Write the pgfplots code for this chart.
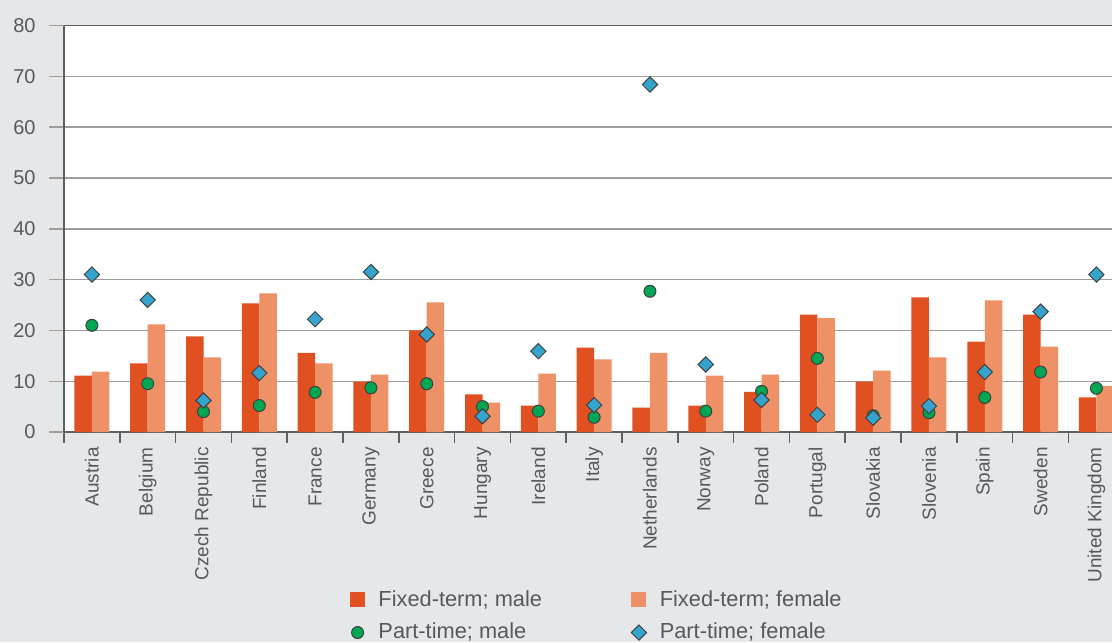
\documentclass[border=0pt]{standalone}
\usepackage{fontspec}
\setmainfont{Liberation Sans}
\usepackage{pgfplots}
\usepackage{pgfplotstable}
\pgfplotsset{compat=1.18}
\definecolor{bgg}{HTML}{E6E7E8}
\definecolor{txt}{HTML}{58595B}
\definecolor{male}{HTML}{E05020}
\definecolor{female}{HTML}{EE9166}
\definecolor{ptm}{HTML}{00A651}
\definecolor{ptf}{HTML}{35A4CD}
\definecolor{gridc}{HTML}{9D9D9D}
\definecolor{axc}{HTML}{5F6062}

\pgfplotsset{
  sqleg/.style={legend image code/.code={\fill[#1] (0pt,-3.75pt) rectangle (7.5pt,3.75pt); \path (12pt,0pt);}},
  mkleg/.style={legend image code/.code={\draw[##1] plot coordinates {(3.75pt,0pt)}; \path (0pt,0pt) (12pt,0pt);}},
}

\pgfplotstableread{
x  male female ptm  ptf
0  11.1 11.9   21.0 31.0
1  13.5 21.2   9.5  26.0
2  18.8 14.7   4.0  6.2
3  25.3 27.3   5.2  11.6
4  15.6 13.5   7.8  22.2
5  9.9  11.3   8.7  31.5
6  20.0 25.5   9.5  19.2
7  7.4  5.8    5.0  3.1
8  5.2  11.5   4.1  15.9
9  16.6 14.3   2.9  5.3
10 4.8  15.6   27.7 68.4
11 5.2  11.1   4.1  13.3
12 7.9  11.3   8.0  6.3
13 23.1 22.4   14.5 3.4
14 9.9  12.1   3.2  2.8
15 26.5 14.7   3.8  5.1
16 17.8 25.9   6.8  11.8
17 23.1 16.8   11.8 23.7
18 6.8  9.1    8.6  31.0
}\data

\begin{document}
\begin{tikzpicture}
\fill[bgg] (-32pt,-105pt) rectangle (524pt,216pt);
\path[use as bounding box] (-32pt,-105pt) rectangle (524pt,216pt);
\begin{axis}[
  at={(0pt,0pt)}, anchor=south west,
  scale only axis, width=524pt, height=203.2pt,
  xmin=-0.5, xmax=18.28, ymin=0, ymax=80,
  axis background/.style={fill=white},
  axis x line*=bottom, axis y line*=left,
  axis line style={axc, line width=0.8pt},
  ytick={0,10,...,80},
  ymajorgrids,
  major grid style={gridc, line width=0.7pt},
  tick align=outside,
  major tick length=7.5pt,
  minor tick length=5.5pt,
  ytick style={gridc, line width=0.7pt},
  major x tick style={draw=none},
  minor x tick style={axc, line width=0.8pt},
  xtick={0,...,18},
  minor xtick={-0.5,0.5,...,17.5},
  xticklabels={Austria,Belgium,Czech Republic,Finland,France,Germany,Greece,Hungary,Ireland,Italy,Netherlands,Norway,Poland,Portugal,Slovakia,Slovenia,Spain,Sweden,United Kingdom},
  xticklabel style={rotate=90, anchor=east, inner sep=0pt, font=\fontsize{9.5}{11}\selectfont, text=txt},
  yticklabel style={anchor=east, inner sep=0pt, xshift=-6.5pt, font=\fontsize{10}{11}\selectfont, text=txt},
  /pgf/number format/assume math mode=true,
  legend columns=2,
  legend cell align=left,
  legend style={at={(axis description cs:0.2665,-0.369)}, anchor=north west, draw=none, fill=none,
    font=\fontsize{10.9}{12}\selectfont, text=txt, row sep=3pt,
    /tikz/every even column/.append style={column sep=42.5pt}},
]
\draw[axc, line width=0.8pt] (axis cs:-0.5,80) -- (axis cs:18.28,80);
\addplot[ybar, bar width=8.75pt, bar shift=-4.375pt, fill=male, draw=none, sqleg=male]
  table[x=x, y=male] {\data};
\addlegendentry{Fixed-term; male}
\addplot[ybar, bar width=8.75pt, bar shift=4.375pt, fill=female, draw=none, sqleg=female]
  table[x=x, y=female] {\data};
\addlegendentry{Fixed-term; female}
\addplot[only marks, mark=*, mark size=3pt, mark options={fill=ptm, draw=black!75, line width=0.5pt}, mkleg]
  table[x=x, y=ptm] {\data};
\addlegendentry{Part-time; male}
\addplot[only marks, mark=square*, mark size=2.7pt, mark options={rotate=45, fill=ptf, draw=black!75, line width=0.5pt}, mkleg]
  table[x=x, y=ptf] {\data};
\addlegendentry{Part-time; female}
\end{axis}
\end{tikzpicture}
\end{document}
